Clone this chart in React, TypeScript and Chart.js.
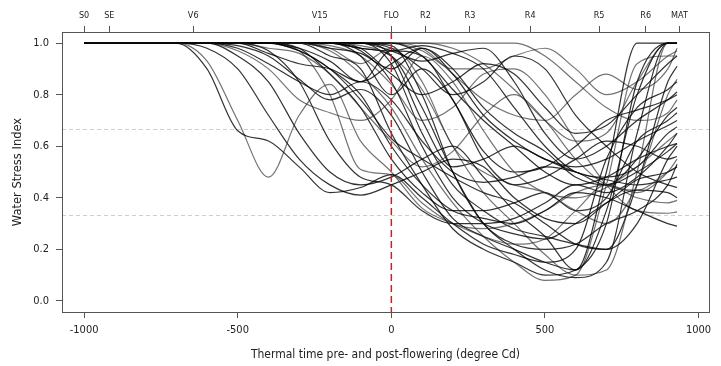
import React, { useEffect, useRef } from 'react';
import { Chart, registerables } from 'chart.js';

Chart.register(...registerables);

// Thermal time (degree Cd) relative to flowering at which each curve is sampled
const THERMAL_TIME = [-1000, -700, -600, -500, -400, -300, -200, -100, 0, 100, 200, 300, 400, 500, 600, 700, 800, 900, 930];

// Water stress index curves (one per simulated environment)
const S01 = [1, 1, 0.9, 0.66, 0.62, 0.52, 0.42, 0.44, 0.49, 0.40, 0.30, 0.22, 0.18, 0.15, 0.20, 0.55, 0.75, 0.82, 0.85];
const S02 = [1, 1, 0.93, 0.7, 0.48, 0.72, 0.84, 0.62, 0.5, 0.36, 0.3, 0.25, 0.22, 0.24, 0.35, 0.45, 0.42, 0.5, 0.55];
const S03 = [1, 1, 0.98, 0.9, 0.72, 0.55, 0.45, 0.41, 0.45, 0.5, 0.55, 0.52, 0.4, 0.32, 0.3, 0.38, 0.47, 0.5, 0.52];
const S04 = [1, 1, 1, 0.95, 0.85, 0.65, 0.5, 0.45, 0.48, 0.55, 0.6, 0.48, 0.35, 0.25, 0.12, 0.35, 0.8, 1, 1];
const S05 = [1, 1, 1, 0.97, 0.9, 0.78, 0.73, 0.70, 0.78, 0.95, 0.85, 0.66, 0.5, 0.42, 0.40, 0.44, 0.52, 0.62, 0.65];
const S06 = [1, 1, 1, 0.99, 0.95, 0.86, 0.78, 0.82, 0.72, 0.5, 0.32, 0.25, 0.2, 0.15, 0.12, 0.5, 1, 1, 1];
const S07 = [1, 1, 1, 1, 0.96, 0.92, 0.9, 0.85, 0.97, 0.95, 0.78, 0.58, 0.5, 0.52, 0.6, 0.7, 0.74, 0.78, 0.8];
const S08 = [1, 1, 1, 1, 0.98, 0.96, 0.88, 0.75, 0.62, 0.52, 0.58, 0.72, 0.8, 0.7, 0.55, 0.45, 0.43, 0.5, 0.52];
const S09 = [1, 1, 1, 1, 1, 0.97, 0.9, 0.8, 0.6, 0.45, 0.35, 0.32, 0.3, 0.35, 0.42, 0.4, 0.35, 0.3, 0.29];
const S10 = [1, 1, 1, 1, 1, 0.98, 0.93, 0.85, 0.92, 0.98, 0.88, 0.72, 0.62, 0.55, 0.52, 0.55, 0.62, 0.68, 0.7];
const S11 = [1, 1, 1, 1, 1, 1, 0.97, 0.88, 0.75, 0.55, 0.38, 0.25, 0.15, 0.08, 0.1, 0.45, 0.92, 0.95, 0.95];
const S12 = [1, 1, 1, 1, 1, 1, 0.98, 0.96, 0.9, 0.98, 0.9, 0.75, 0.65, 0.58, 0.48, 0.45, 0.55, 0.72, 0.75];
const S13 = [1, 1, 1, 1, 1, 1, 1, 0.97, 0.85, 0.6, 0.4, 0.3, 0.26, 0.24, 0.3, 0.38, 0.43, 0.42, 0.40];
const S14 = [1, 1, 1, 1, 1, 1, 1, 0.99, 0.95, 0.82, 0.6, 0.42, 0.3, 0.18, 0.1, 0.12, 0.5, 1, 1];
const S15 = [1, 1, 1, 1, 1, 1, 1, 1, 0.98, 0.9, 0.8, 0.85, 0.95, 0.9, 0.72, 0.6, 0.5, 0.45, 0.44];
const S16 = [1, 1, 1, 1, 1, 1, 1, 1, 1, 0.95, 0.82, 0.7, 0.6, 0.5, 0.45, 0.48, 0.55, 0.6, 0.61];
const S17 = [1, 1, 1, 1, 1, 1, 1, 1, 1, 1, 1, 1, 1, 0.95, 0.85, 0.75, 0.7, 0.73, 0.78];
const S18 = [1, 1, 1, 1, 1, 1, 1, 0.98, 0.88, 0.8, 0.85, 0.92, 0.88, 0.75, 0.65, 0.68, 0.8, 0.92, 0.95];
const S19 = [1, 1, 1, 1, 1, 1, 0.95, 0.9, 0.65, 0.45, 0.28, 0.2, 0.15, 0.1, 0.12, 0.3, 0.85, 1, 1];
const S20 = [1, 1, 1, 1, 1, 0.97, 0.8, 0.51, 0.49, 0.38, 0.3, 0.28, 0.3, 0.35, 0.42, 0.45, 0.4, 0.38, 0.39];
const S21 = [1, 1, 1, 1, 0.97, 0.85, 0.62, 0.48, 0.45, 0.35, 0.3, 0.3, 0.32, 0.38, 0.45, 0.42, 0.48, 0.6, 0.65];
const S22 = [1, 1, 1, 1, 1, 1, 1, 0.95, 0.8, 0.9, 0.78, 0.55, 0.45, 0.48, 0.55, 0.62, 0.6, 0.55, 0.56];
const S23 = [1, 1, 1, 1, 1, 1, 0.98, 0.92, 0.98, 0.85, 0.6, 0.5, 0.45, 0.42, 0.35, 0.3, 0.45, 0.8, 0.86];
const S24 = [1, 1, 1, 1, 1, 1, 1, 1, 0.95, 0.7, 0.52, 0.55, 0.6, 0.55, 0.5, 0.47, 0.45, 0.47, 0.48];
const S25 = [1, 1, 1, 1, 1, 1, 1, 1, 0.97, 0.93, 0.96, 0.98, 0.85, 0.65, 0.55, 0.6, 0.7, 0.78, 0.81];
const S26 = [1, 1, 1, 1, 1, 1, 0.99, 0.95, 0.84, 0.7, 0.75, 0.88, 0.9, 0.8, 0.62, 0.45, 0.35, 0.34, 0.345];
const S27 = [1, 1, 1, 1, 1, 0.97, 0.9, 0.78, 0.63, 0.55, 0.48, 0.42, 0.38, 0.3, 0.22, 0.2, 0.45, 0.85, 0.91];
const S28 = [1, 1, 1, 1, 1, 1, 1, 0.98, 0.97, 0.99, 0.96, 0.9, 0.75, 0.6, 0.5, 0.48, 0.52, 0.65, 0.675];
const S29 = [1, 1, 1, 1, 1, 1, 1, 1, 1, 0.98, 0.88, 0.78, 0.72, 0.7, 0.8, 0.88, 0.82, 0.9, 0.98];
const S30 = [1, 1, 1, 1, 1, 1, 1, 1, 0.99, 0.8, 0.5, 0.3, 0.22, 0.2, 0.22, 0.3, 0.35, 0.45, 0.53];
const S31 = [1, 1, 1, 1, 1, 0.98, 0.88, 0.75, 0.55, 0.42, 0.35, 0.35, 0.38, 0.42, 0.35, 0.4, 0.62, 0.7, 0.73];
const S32 = [1, 1, 1, 1, 1, 1, 1, 1, 1, 1, 0.98, 0.92, 0.82, 0.7, 0.62, 0.65, 0.85, 1, 1];
const S33 = [1, 1, 1, 1, 1, 1, 1, 1, 0.92, 0.65, 0.45, 0.35, 0.28, 0.25, 0.22, 0.2, 0.3, 0.55, 0.6];
const S34 = [1, 1, 1, 0.98, 0.92, 0.85, 0.8, 0.85, 0.78, 0.62, 0.5, 0.46, 0.48, 0.52, 0.5, 0.45, 0.5, 0.58, 0.61];
const S35 = [1, 1, 1, 1, 1, 1, 1, 1, 1, 0.97, 0.9, 0.9, 0.95, 0.98, 0.9, 0.8, 0.85, 0.95, 0.97];
const S36 = [1, 1, 1, 1, 1, 1, 1, 0.98, 0.95, 0.75, 0.5, 0.3, 0.2, 0.12, 0.09, 0.15, 0.65, 1, 1];

const CURVES = [S01, S02, S03, S04, S05, S06, S07, S08, S09, S10, S11, S12, S13, S14, S15, S16, S17, S18,
  S19, S20, S21, S22, S23, S24, S25, S26, S27, S28, S29, S30, S31, S32, S33, S34, S35, S36];

// Phenological stages on the top axis
const STAGE_TIMES = [-1000, -918, -645, -233, 0, 111, 256, 452, 676, 828, 938];
const STAGE_LABELS = ['S0', 'SE', 'V6', 'V15', 'FLO', 'R2', 'R3', 'R4', 'R5', 'R6', 'MAT'];

const X_TICKS = [-1000, -500, 0, 500, 1000];
const Y_TICKS = [0, 0.2, 0.4, 0.6, 0.8, 1.0];
const STRESS_THRESHOLDS = [1 / 3, 2 / 3];
const FLOWERING_TIME = 0;

const X_MIN = -1072;
const X_MAX = 1034;
const Y_MIN = -0.043;
const Y_MAX = 1.043;

const FONT_FAMILY = '"DejaVu Sans Condensed", "Liberation Sans Narrow", "DejaVu Sans", sans-serif';
const FONT_FAMILY_V = '"DejaVu Sans", sans-serif';

const overlay = {
  id: 'overlay',
  beforeDatasetsDraw(chart: any) {
    const { ctx, chartArea, scales } = chart;
    const { left, right } = chartArea;
    ctx.save();
    ctx.setLineDash([4, 3]);
    ctx.strokeStyle = '#cfcfcf';
    ctx.lineWidth = 1;
    STRESS_THRESHOLDS.forEach((t) => {
      const py = Math.round(scales.y.getPixelForValue(t)) + 0.5;
      ctx.beginPath();
      ctx.moveTo(left, py);
      ctx.lineTo(right, py);
      ctx.stroke();
    });
    ctx.restore();
  },
  afterDatasetsDraw(chart: any) {
    const { ctx, chartArea, scales } = chart;
    const { left, right, top, bottom } = chartArea;
    ctx.save();
    const px = scales.x.getPixelForValue(FLOWERING_TIME);
    ctx.setLineDash([7, 4]);
    ctx.strokeStyle = '#ee1111';
    ctx.lineWidth = 1.5;
    ctx.beginPath();
    ctx.moveTo(px, top);
    ctx.lineTo(px, bottom);
    ctx.stroke();
    ctx.setLineDash([]);
    ctx.strokeStyle = '#555';
    ctx.lineWidth = 1;
    ctx.strokeRect(Math.round(left) + 0.5, Math.round(top) + 0.5, Math.round(right - left), Math.round(bottom - top));
    ctx.restore();
  },
};

export default function App() {
  const canvasRef = useRef<HTMLCanvasElement | null>(null);

  useEffect(() => {
    if (!canvasRef.current) return;
    const datasets = CURVES.map((curve, i) => ({
      data: THERMAL_TIME.map((x, j) => ({ x, y: curve[j] })),
      borderColor: i % 3 === 1 ? 'rgba(40,40,40,0.65)' : 'rgba(0,0,0,0.8)',
      borderWidth: 1.2,
      pointRadius: 0,
      fill: false,
      cubicInterpolationMode: 'monotone' as const,
      xAxisID: 'x',
      yAxisID: 'y',
    }));

    const tickFont = { family: FONT_FAMILY, size: 11 };
    const chart = new Chart(canvasRef.current, {
      type: 'line',
      data: { datasets },
      options: {
        animation: false,
        responsive: true,
        maintainAspectRatio: false,
        layout: { padding: { left: 0, right: 12, top: 0, bottom: 0 } },
        plugins: { legend: { display: false }, tooltip: { enabled: false } },
        scales: {
          x: {
            type: 'linear',
            position: 'bottom',
            min: X_MIN,
            max: X_MAX,
            afterBuildTicks: (s: any) => { s.ticks = X_TICKS.map((v) => ({ value: v })); },
            afterFit: (s: any) => { s.height = 54; },
            ticks: { font: tickFont, color: '#222', padding: 6, maxRotation: 0, autoSkip: false, callback: (v: any) => String(v) },
            grid: { display: true, drawOnChartArea: false, drawTicks: true, tickLength: 6, color: '#555' },
            border: { display: false },
            title: { display: true, text: 'Thermal time pre- and post-flowering (degree Cd)', font: { family: FONT_FAMILY, size: 12 }, color: '#222', padding: { top: 0, bottom: 4 } },
          },
          x2: {
            type: 'linear',
            position: 'top',
            min: X_MIN,
            max: X_MAX,
            afterBuildTicks: (s: any) => { s.ticks = STAGE_TIMES.map((v) => ({ value: v })); },
            afterFit: (s: any) => { s.height = 32; },
            ticks: { font: { family: FONT_FAMILY, size: 9 }, color: '#222', padding: 5, maxRotation: 0, autoSkip: false, callback: (_v: any, i: number) => STAGE_LABELS[i] },
            grid: { display: true, drawOnChartArea: false, drawTicks: true, tickLength: 6, color: '#555' },
            border: { display: false },
          },
          y: {
            type: 'linear',
            position: 'left',
            min: Y_MIN,
            max: Y_MAX,
            afterBuildTicks: (s: any) => { s.ticks = Y_TICKS.map((v) => ({ value: v })); },
            afterFit: (s: any) => { s.width = 62; },
            ticks: { font: tickFont, color: '#222', padding: 7, autoSkip: false, callback: (v: any) => Number(v).toFixed(1) },
            grid: { display: true, drawOnChartArea: false, drawTicks: true, tickLength: 6, color: '#555' },
            border: { display: false },
            title: { display: true, text: 'Water Stress Index', font: { family: FONT_FAMILY_V, size: 11.5 }, color: '#222', padding: { top: 11, bottom: 0 } },
          },
        },
      },
      plugins: [overlay],
    });
    return () => chart.destroy();
  }, []);

  return (
    <div style={{ position: 'absolute', left: 0, top: 0, width: 721, height: 366, background: '#fff' }}>
      <canvas ref={canvasRef} />
    </div>
  );
}
